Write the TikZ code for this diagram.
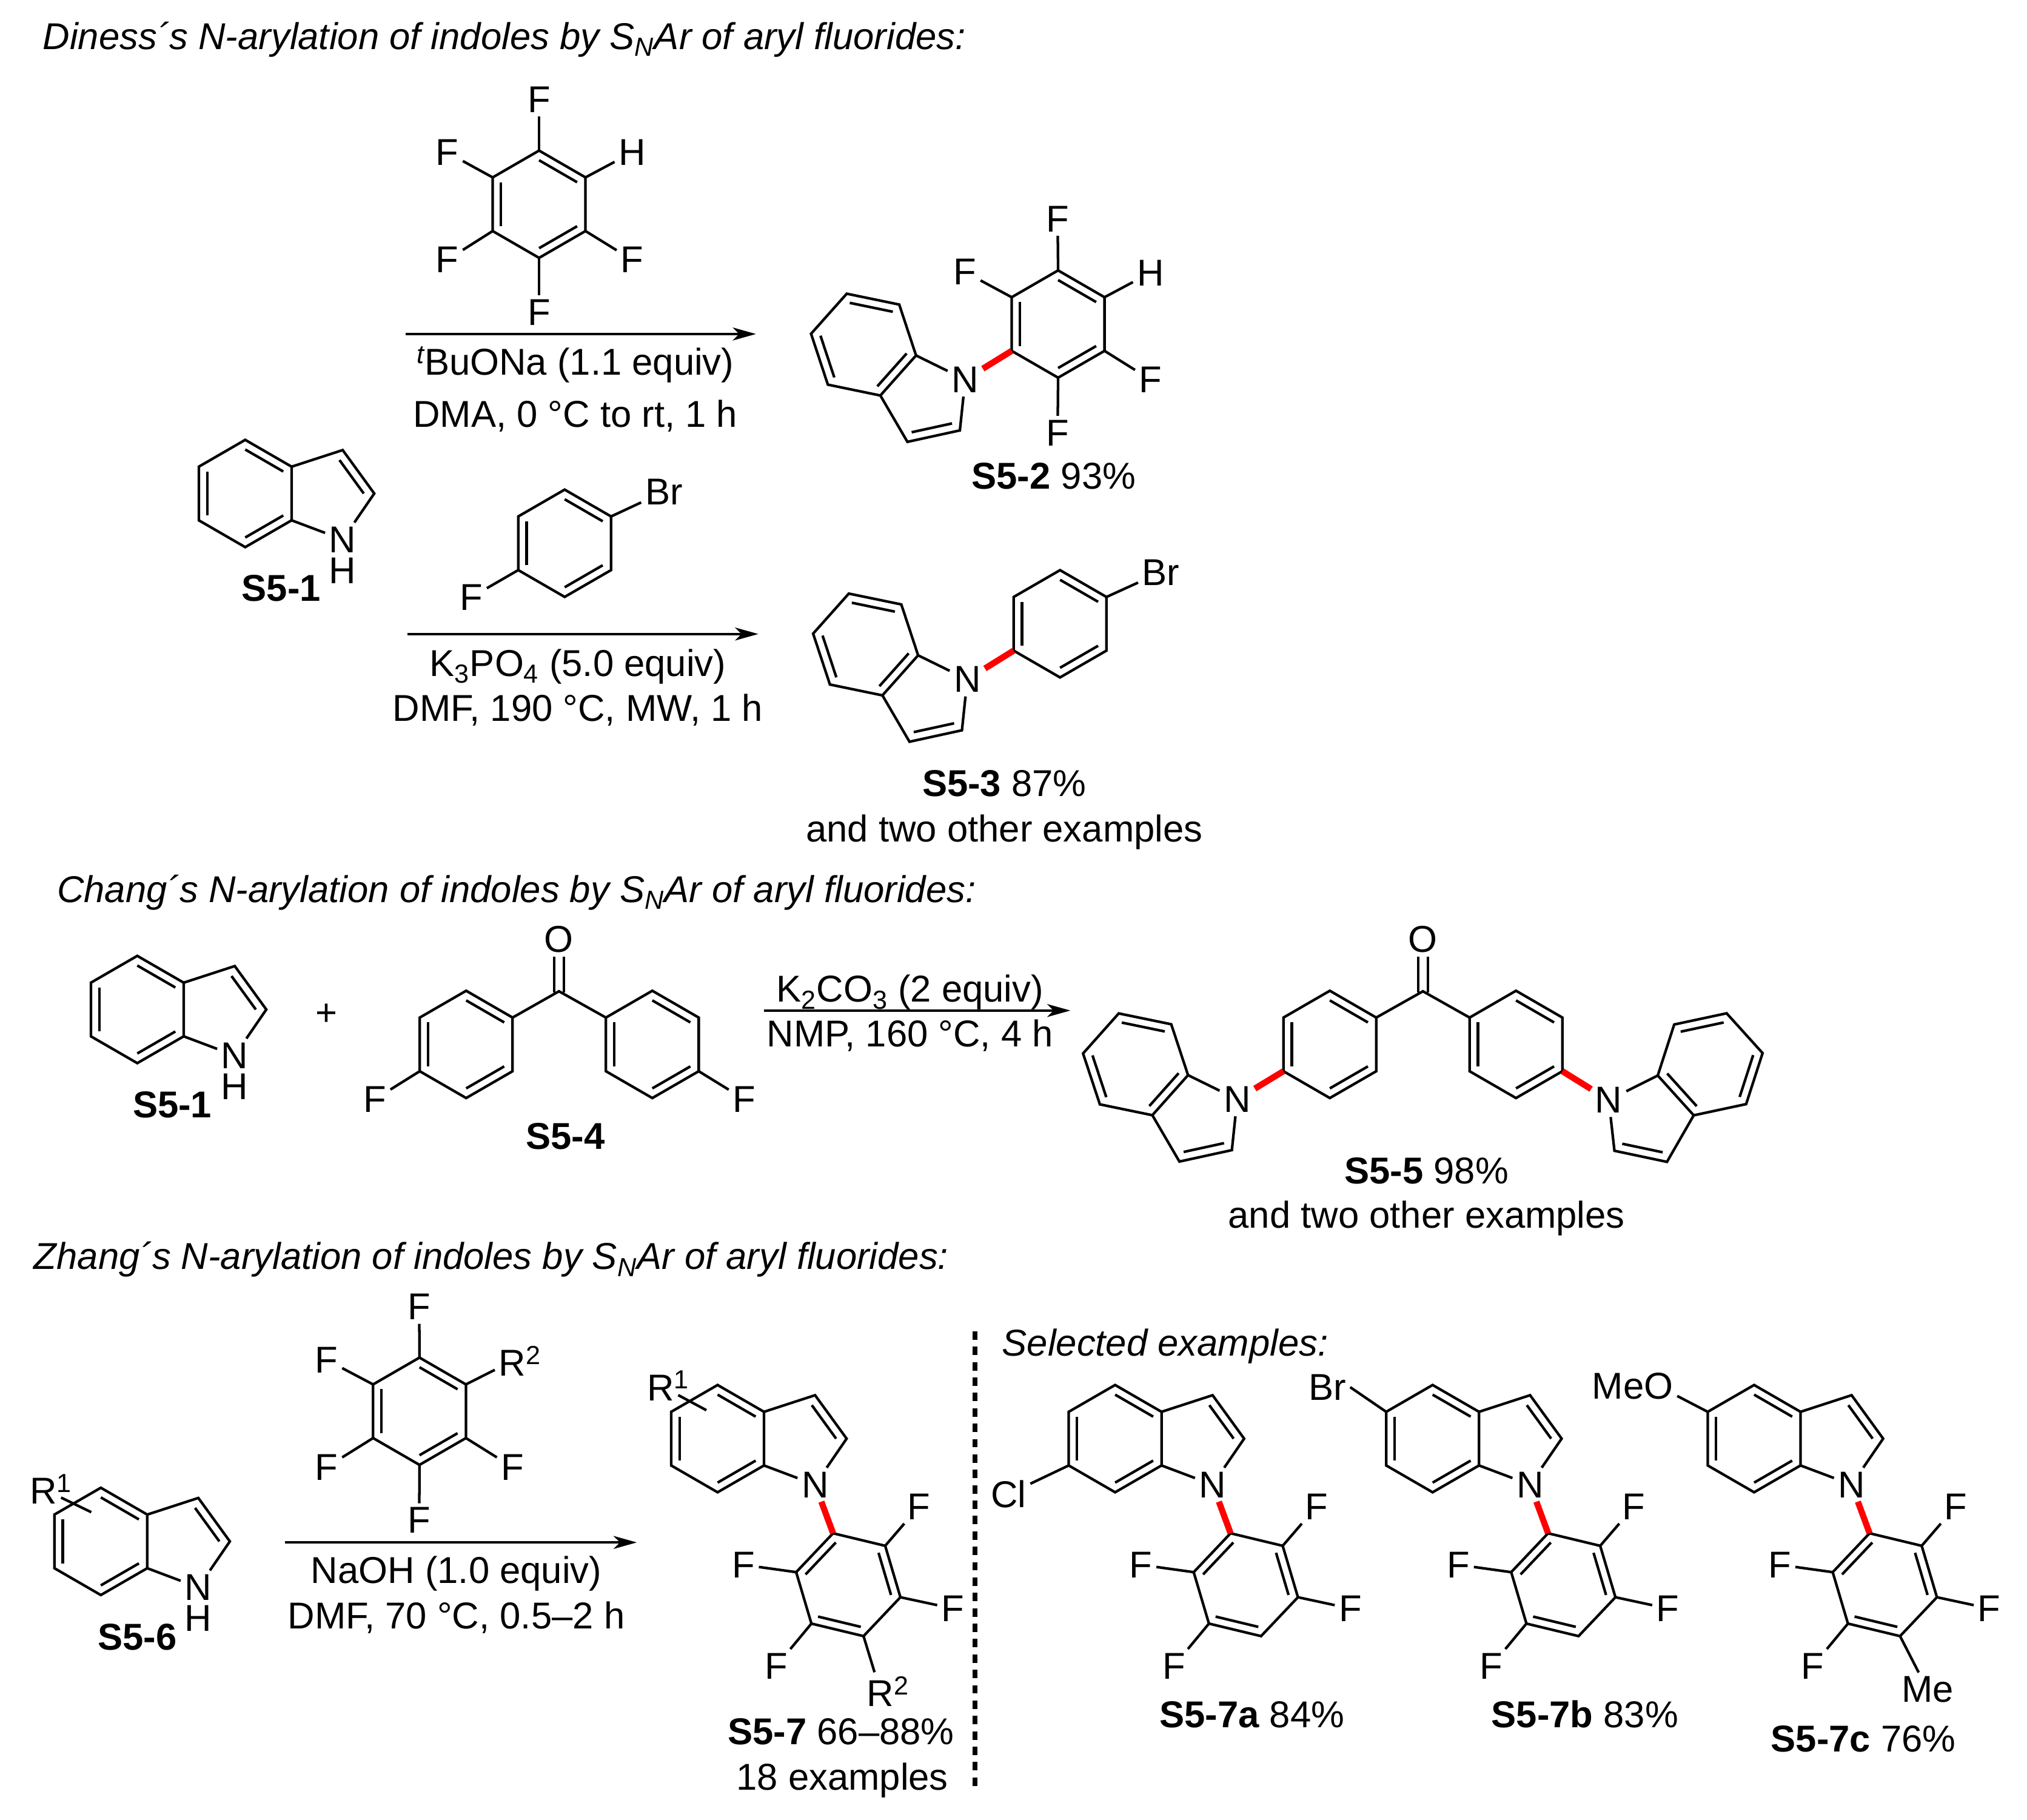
\documentclass[tikz,border=0pt]{standalone}
\usepackage{fontspec}
\setmainfont{Liberation Sans}
\usetikzlibrary{arrows.meta, calc, positioning}

% six-ring corners, clockwise from the top
\newcommand{\hexring}[3]{%
  \begin{scope}[shift={(#2)},#3]
    \coordinate (#1-c) at (0,0);
    \coordinate (#1-1) at (0,-41.5);
    \coordinate (#1-2) at (35.9,-20.75);
    \coordinate (#1-3) at (35.9,20.75);
    \coordinate (#1-4) at (0,41.5);
    \coordinate (#1-5) at (-35.9,20.75);
    \coordinate (#1-6) at (-35.9,-20.75);
  \end{scope}
  \draw[bond] (#1-1) -- (#1-2) -- (#1-3) -- (#1-4) -- (#1-5) -- (#1-6) -- cycle;
}
% inner lines of the double bonds of a six-ring
\newcommand{\ringdbl}[2]{%
  \foreach \p/\q in {#2} {
    \draw[bond] ($(#1-\p)!0.18!(#1-c)$) -- ($(#1-\q)!0.18!(#1-c)$);
  }
}
% indole: six-ring and five-ring with its N
\newcommand{\indole}[4]{%
  \hexring{#1}{#2}{#3}
  \ringdbl{#1}{#4}
  \begin{scope}[shift={(#2)},#3]
    \coordinate (#1-p) at (64.5,0);
    \coordinate (#1-t) at (75.4,-33.6);
    \coordinate (#1-u) at (99.8,0);
    \coordinate (#1-n) at (75.4,33.6);
  \end{scope}
  \node[atom] (#1-N) at ($(#1-n)+(0,2)$) {N};
  \draw[bond] (#1-2) -- (#1-t) -- (#1-u) -- (#1-N);
  \draw[bond] (#1-3) -- (#1-N);
  \draw[bond] ($(#1-t)!0.23!(#1-p)$) -- ($(#1-u)!0.23!(#1-p)$);
}

\begin{document}
\begin{tikzpicture}[x=1pt, y=-1pt, font=\fontsize{28.9}{34}\selectfont,
    bond/.style={line width=2pt},
    newbond/.style={line width=4.8pt, red},
    rxn/.style={line width=2pt, -{Stealth[length=18pt, width=10pt, inset=5pt]}},
    atom/.style={inner sep=3pt},
    txt/.style={inner sep=0pt, anchor=base},
    title/.style={inner sep=0pt, anchor=base west}]
  \useasboundingbox (0,0) rectangle (1568,1408);

  % Diness heading
  \node[title] (head1) at (33,38) {\itshape Diness´s N-arylation of indoles by S\textsubscript{N}Ar of aryl fluorides:};

  % Pentafluoro reagent over the first arrow
  \hexring{pf}{417,158}{}
  \ringdbl{pf}{1/2,3/4,5/6}
  \node[atom] (pfa) at (417,77) {F};
  \node[atom] (pfb) at (489,118) {H};
  \node[atom] (pfc) at (489,201) {F};
  \node[atom] (pfd) at (417,241.7) {F};
  \node[atom] (pfe) at (346,201) {F};
  \node[atom] (pff) at (346,118) {F};
  \draw[bond] (pf-1) -- (pfa);
  \draw[bond] (pf-2) -- (pfb);
  \draw[bond] (pf-3) -- (pfc);
  \draw[bond] (pf-4) -- (pfd);
  \draw[bond] (pf-5) -- (pfe);
  \draw[bond] (pf-6) -- (pff);

  \coordinate (arra) at (313.7,258.4);
  \coordinate (arrb) at (584.8,258.4);
  \draw[rxn] (arra) -- (arrb);
  \node[txt] (conda) at (445,290) {\textsuperscript{\itshape t}BuONa (1.1 equiv)};
  \node[txt] (condb) at (445,330.6) {DMA, 0 °C to rt, 1 h};

  % Starting indole
  \indole{ind}{189.7,381.8}{}{1/2,3/4,5/6}
  \node[atom, below=-2.4pt of ind-N] (indH) {H};
  \node[txt] (indl) at (217.6,465) {\bfseries S5-1};

  % Product with the C6F4H ring
  \indole{pa}{668,266.6}{rotate=-41.7,yscale=-1}{2/3,4/5,6/1}
  \hexring{pb}{818.5,250.7}{}
  \ringdbl{pb}{1/2,3/4,5/6}
  \node[atom] (pba) at (818.1,169.3) {F};
  \node[atom] (pbb) at (890,211) {H};
  \node[atom] (pbc) at (890,293.7) {F};
  \node[atom] (pbd) at (818.1,334.8) {F};
  \node[atom] (pbf) at (746.5,210.5) {F};
  \draw[bond] (pb-1) -- (pba);
  \draw[bond] (pb-2) -- (pbb);
  \draw[bond] (pb-3) -- (pbc);
  \draw[bond] (pb-4) -- (pbd);
  \draw[bond] (pb-6) -- (pbf);
  \draw[newbond] (pb-5) -- (pa-N);
  \node[txt] (pbl) at (815.1,378.4) {\bfseries S5-2 \normalfont 93\%};

  % Bromofluorobenzene over the second arrow
  \hexring{bf}{436.8,420.3}{}
  \ringdbl{bf}{1/2,3/4,5/6}
  \node[atom] (bfa) at (513.6,380.5) {Br};
  \node[atom] (bfb) at (364.6,462) {F};
  \draw[bond] (bf-2) -- (bfa);
  \draw[bond] (bf-5) -- (bfb);

  \coordinate (arrc) at (315,490.5);
  \coordinate (arrd) at (586.6,490.5);
  \draw[rxn] (arrc) -- (arrd);
  \node[txt] (condc) at (447,523) {K\textsubscript{3}PO\textsubscript{4} (5.0 equiv)};
  \node[txt] (condd) at (447,558) {DMF, 190 °C, MW, 1 h};

  % Product with the bromophenyl ring
  \indole{qa}{669.6,498.6}{rotate=-41.7,yscale=-1}{2/3,4/5,6/1}
  \hexring{qb}{820,482.6}{}
  \ringdbl{qb}{1/2,3/4,5/6}
  \node[atom] (qbr) at (898,442.7) {Br};
  \draw[bond] (qb-2) -- (qbr);
  \draw[newbond] (qb-5) -- (qa-N);
  \node[txt] (qbl) at (776.9,616.2) {\bfseries S5-3 \normalfont 87\%};
  \node[txt] (qbm) at (776.9,651.4) {and two other examples};

  % Chang heading
  \node[title] (head2) at (44,698) {\itshape Chang´s N-arylation of indoles by S\textsubscript{N}Ar of aryl fluorides:};

  % Indole plus difluorobenzophenone
  \indole{inc}{106.2,781}{}{1/2,3/4,5/6}
  \node[atom, below=-2.4pt of inc-N] (incH) {H};
  \node[txt] (incl) at (133.3,864.5) {\bfseries S5-1};
  \node[inner sep=0pt] (plus) at (252.8,784.8) {+};

  \coordinate (kc) at (432.4,766.9);
  \node[atom] (ko) at (432.4,726.5) {O};
  \hexring{kl}{360.6,808}{}
  \hexring{kr}{504.6,808}{}
  \ringdbl{kl}{1/2,3/4,5/6}
  \ringdbl{kr}{1/2,3/4,5/6}
  \draw[bond] (kl-2) -- (kc) -- (kr-6);
  \draw[bond] ($(kc)+(-3.8,1)$) -- ($(ko.south)+(-3.8,0)$);
  \draw[bond] ($(kc)+(3.8,1)$) -- ($(ko.south)+(3.8,0)$);
  \node[atom] (kfa) at (290,850.4) {F};
  \node[atom] (kfb) at (575.7,850.4) {F};
  \draw[bond] (kl-5) -- (kfa);
  \draw[bond] (kr-3) -- (kfb);
  \node[txt] (kl4) at (437.4,889) {\bfseries S5-4};

  \coordinate (arre) at (591,781.8);
  \coordinate (arrf) at (828,781.8);
  \draw[rxn] (arre) -- (arrf);
  \node[txt] (conde) at (703.9,775) {K\textsubscript{2}CO\textsubscript{3} (2 equiv)};
  \node[txt] (condf) at (703.9,810) {NMP, 160 °C, 4 h};

  % Bis-indolyl product
  \coordinate (mc) at (1100.7,766.9);
  \node[atom] (mo) at (1100.7,726.5) {O};
  \hexring{ml}{1028.7,808}{}
  \hexring{mr}{1172.7,808}{}
  \ringdbl{ml}{1/2,3/4,5/6}
  \ringdbl{mr}{1/2,3/4,5/6}
  \draw[bond] (ml-2) -- (mc) -- (mr-6);
  \draw[bond] ($(mc)+(-3.8,1)$) -- ($(mo.south)+(-3.8,0)$);
  \draw[bond] ($(mc)+(3.8,1)$) -- ($(mo.south)+(3.8,0)$);
  \indole{mi}{878.4,823.4}{rotate=-41.7,yscale=-1}{2/3,4/5,6/1}
  \indole{mj}{1322.9,823.4}{rotate=-137.9}{2/3,4/5,6/1}
  \draw[newbond] (ml-5) -- (mi-N);
  \draw[newbond] (mr-3) -- (mj-N);
  \node[txt] (mlb) at (1103.5,915.6) {\bfseries S5-5 \normalfont 98\%};
  \node[txt] (mlc) at (1103.5,950) {and two other examples};

  % Zhang heading
  \node[title] (head3) at (26,982) {\itshape Zhang´s N-arylation of indoles by S\textsubscript{N}Ar of aryl fluorides:};

  % Substituted indole
  \indole{zi}{78,1192.5}{}{1/2,3/4,5/6}
  \node[atom, below=-2.4pt of zi-N] (ziH) {H};
  \node[atom] (ziR) at (33.6,1152) {R\rlap{\textsuperscript{1}}};
  \coordinate (ziend) at (70.6,1169.9);
  \draw[bond] (ziR) -- (ziend);
  \node[txt] (zil) at (106.1,1276.5) {\bfseries S5-6};

  % Tetrafluoro reagent over the third arrow
  \hexring{zf}{324.5,1091.8}{}
  \ringdbl{zf}{1/2,3/4,5/6}
  \node[atom] (zfa) at (324.3,1011) {F};
  \node[atom] (zfb) at (396.4,1052.9) {R\rlap{\textsuperscript{2}}};
  \node[atom] (zfc) at (396.4,1135) {F};
  \node[atom] (zfd) at (324.3,1176.2) {F};
  \node[atom] (zfe) at (252.7,1135) {F};
  \node[atom] (zff) at (252.7,1052.1) {F};
  \draw[bond] (zf-1) -- (zfa);
  \draw[bond] (zf-2) -- (zfb);
  \draw[bond] (zf-3) -- (zfc);
  \draw[bond] (zf-4) -- (zfd);
  \draw[bond] (zf-5) -- (zfe);
  \draw[bond] (zf-6) -- (zff);

  \coordinate (arrg) at (220.6,1193.3);
  \coordinate (arrh) at (492.6,1193.3);
  \draw[rxn] (arrg) -- (arrh);
  \node[txt] (condg) at (353,1224.9) {NaOH (1.0 equiv)};
  \node[txt] (condh) at (353,1260) {DMF, 70 °C, 0.5–2 h};

  % N-aryl indole with its four fluorines, general product and examples
  \foreach \nm/\dx in {p/0, a/307.5, b/553.1, c/801.8} {
    \indole{\nm}{555.1+\dx,1113}{}{1/2,3/4,5/6}
    \hexring{\nm r}{656.2+\dx,1226}{rotate=16.5}
    \ringdbl{\nm r}{6/1,2/3,4/5}
    \node[atom] (\nm f2) at (710.8+\dx,1165.6) {F};
    \node[atom] (\nm f3) at (737+\dx,1244.4) {F};
    \node[atom] (\nm f5) at (600.5+\dx,1288.9) {F};
    \node[atom] (\nm f6) at (575+\dx,1210.6) {F};
    \draw[bond] (\nm r-2) -- (\nm f2);
    \draw[bond] (\nm r-3) -- (\nm f3);
    \draw[bond] (\nm r-5) -- (\nm f5);
    \draw[bond] (\nm r-6) -- (\nm f6);
    \draw[newbond] (\nm r-1) -- (\nm-N);
  }

  % Groups that differ between them
  \node[atom] (pR) at (511,1072) {R\rlap{\textsuperscript{1}}};
  \coordinate (pend) at (546.4,1091);
  \draw[bond] (pR) -- (pend);
  \node[atom] (pRb) at (681,1308.5) {R\rlap{\textsuperscript{2}}};
  \draw[bond] (pr-4) -- (pRb);
  \node[txt] (pl) at (650.6,1349.5) {\bfseries S5-7 \normalfont 66–88\%};
  \node[txt] (pm) at (651.6,1385) {18 examples};

  \node[atom] (acl) at (780.2,1155.9) {Cl};
  \draw[bond] (a-5) -- (acl);
  \node[txt] (al) at (968.4,1336.3) {\bfseries S5-7a \normalfont 84\%};

  \node[atom] (bbr) at (1026.8,1073.2) {Br};
  \draw[bond] (b-6) -- (bbr.east);
  \node[txt] (bl) at (1226,1336.3) {\bfseries S5-7b \normalfont 83\%};

  \node[atom] (cmeo) at (1283,1072.5) {\llap{Me}O};
  \draw[bond] (c-6) -- (cmeo);
  \node[atom] (cme) at (1491,1307.2) {Me};
  \draw[bond] (cr-4) -- (cme);
  \node[txt] (cl) at (1441.4,1355.4) {\bfseries S5-7c \normalfont 76\%};

  % Divider and its caption
  \coordinate (diva) at (754.2,1030);
  \coordinate (divb) at (754.2,1386);
  \draw[line width=3.5pt, dash pattern=on 6.5pt off 5.4pt] (diva) -- (divb);
  \node[title] (head4) at (775,1049) {\itshape Selected examples:};
\end{tikzpicture}
\end{document}
